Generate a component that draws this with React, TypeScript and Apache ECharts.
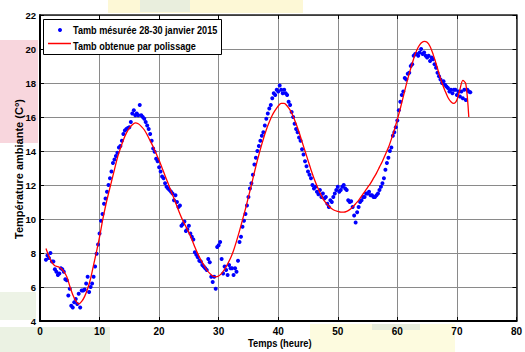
import React, { useEffect, useRef } from "react";
import * as echarts from "echarts";

// Measured ambient temperature, one value every 0.25 h starting at t = 1 h
const measuredStart = 1;
const measuredStep = 0.25;
const measuredDay1 = [
  7.6, 7.85, 7.7, 8.0, 7.5, 7.5, 7.05, 6.9, 6.7, 6.8, 7.1, 7.05, 6.9, 6.45, 6.4, 5.5,
  5.9, 4.9, 4.8, 5.1, 5.3, 5.0, 5.6, 4.8, 5.8, 5.8, 5.85, 6.2, 6.6, 5.7, 6.0, 6.2,
  6.6, 7.2, 7.95, 8.5, 9.15, 9.9, 10.3, 10.9, 11.2, 11.6, 12.0, 12.4, 12.8, 13.3, 13.5, 13.7,
  13.9, 14.2, 14.3, 14.6, 15.0, 15.2, 15.3, 15.35, 15.4, 15.7, 16.2, 16.4, 16.1, 16.2, 16.1, 16.7,
  16.1, 16.0, 15.9, 15.7, 15.5, 15.3, 15.0, 14.6, 14.15, 13.95, 13.55, 13.4, 13.05, 12.8, 12.5, 12.4,
  12.1, 11.9, 11.8, 11.7, 11.6, 11.5, 11.1, 11.4, 11.0, 10.7, 10.8, 9.6,
];
const measuredDay2 = [
  9.7, 9.85, 9.3, 9.4, 9.6, 9.15, 8.95, 8.8, 8.05, 7.9, 7.75, 7.55, 7.5, 7.3, 7.2, 7.1,
  7.0, 7.65, 7.45, 6.6, 6.3, 6.6, 5.9, 8.35, 8.45, 8.65, 7.65, 6.8, 7.2, 7.0, 6.7, 7.3,
  7.1, 7.1, 6.7, 7.1, 6.9, 7.55, 8.65, 8.95, 9.55, 9.9, 10.3, 10.8, 11.3, 11.8, 12.1, 12.6,
  13.2, 13.6, 14.0, 14.3, 14.6, 14.9, 15.1, 15.5, 15.9, 16.2, 16.5, 16.7, 17.1, 17.4, 17.3, 17.6,
  17.5, 17.85, 17.6, 17.4, 17.6, 17.4, 17.3, 16.9, 16.7, 16.3, 16.0, 15.6, 15.3, 15.1, 14.8, 14.6,
  14.1, 13.8, 13.4, 13.1, 12.8, 12.6, 12.4, 12.0, 11.8, 11.9, 11.6, 11.45, 11.7, 11.3, 11.5, 11.2,
];
const measuredDay3 = [
  11.3, 10.9, 10.7, 11.1, 11.0, 11.3, 11.5, 11.7, 11.9, 11.6, 11.7, 11.9, 12.0, 11.8, 11.7, 11.1,
  11.0, 11.05, 10.7, 10.2, 9.8, 10.4, 10.7, 11.0, 11.1, 11.3, 11.3, 11.5, 11.5, 11.6, 11.4, 11.4,
  11.3, 11.3, 11.4, 11.5, 11.7, 11.9, 12.1, 12.4, 12.9, 13.3, 13.6, 14.0, 14.2, 14.9, 15.1, 15.4,
  15.8, 16.4, 16.9, 17.3, 17.5, 18.3, 18.2, 18.55, 18.6, 19.0, 19.1, 19.6, 19.7, 19.7, 19.6, 19.8,
  20.0, 19.7, 19.8, 19.6, 19.5, 19.6, 19.3, 19.5, 19.4, 19.1, 18.9, 18.6, 18.4, 18.2, 18.0, 18.1,
  17.9, 17.8, 17.7, 17.5, 17.6, 17.4, 17.6, 17.6, 17.3, 17.5, 17.2, 17.5, 17.1, 17.6, 17.0, 17.6,
  17.5, 17.45,
];

// Smoothed ("polissage") curve, one value every 0.5 h starting at t = 1 h
const fitStart = 1;
const fitStep = 0.5;
const fitTemps = [
  8.26, 7.8, 7.45, 7.25, 7.2, 7.1, 6.9, 6.6, 6.05, 5.55, 5.2, 5.0, 5.15, 5.45, 5.9, 6.5,
  7.3, 8.1, 8.95, 9.9, 10.75, 11.5, 12.2, 12.9, 13.6, 14.15, 14.65, 15.05, 15.35, 15.55, 15.65, 15.6,
  15.45, 15.25, 14.95, 14.6, 14.25, 13.85, 13.45, 13.0, 12.55, 12.1, 11.65, 11.2, 10.75, 10.3, 9.9, 9.55,
  9.2, 8.8, 8.35, 7.95, 7.6, 7.3, 7.0, 6.8, 6.65, 6.6, 6.65, 6.8, 7.05, 7.35, 7.7, 8.15,
  8.7, 9.3, 9.95, 10.6, 11.3, 12.0, 12.75, 13.45, 14.1, 14.7, 15.25, 15.7, 16.1, 16.4, 16.65, 16.8,
  16.8, 16.65, 16.4, 16.05, 15.6, 15.1, 14.55, 14.0, 13.45, 12.9, 12.4, 11.95, 11.55, 11.2, 10.95, 10.75,
  10.6, 10.5, 10.45, 10.4, 10.4, 10.45, 10.55, 10.7, 10.9, 11.1, 11.35, 11.6, 11.85, 12.1, 12.4, 12.7,
  13.05, 13.4, 13.8, 14.2, 14.7, 15.25, 15.85, 16.5, 17.2, 17.9, 18.55, 19.15, 19.7, 20.1, 20.35, 20.45,
  20.4, 20.15, 19.7, 19.15, 18.55, 18.0, 17.55, 17.15, 16.9, 16.8, 17.0, 17.6, 18.15, 17.95, 16.0,
];

const xTicks = { min: 0, max: 80, interval: 10 };
const yTicks = { min: 4, max: 22, interval: 2 };

const legendLabels = ["Tamb mésurée 28-30 janvier 2015", "Tamb obtenue par polissage"];
const xTitle = "Temps (heure)";
const yTitle = "Température ambiante (C°)";

const FONT = "'Liberation Sans', Arial, sans-serif";

export default function App() {
  const ref = useRef<HTMLDivElement>(null);
  useEffect(() => {
    if (!ref.current) return;
    const chart = echarts.init(ref.current, undefined, { renderer: "svg" });
    const measured = [...measuredDay1, ...measuredDay2, ...measuredDay3].map((v, i) => [
      measuredStart + i * measuredStep,
      v,
    ]);
    const fit = fitTemps.map((v, i) => [fitStart + i * fitStep, v]);

    const grid = { left: 40, right: 4, top: 15, bottom: 31 };
    const splitLine = { show: true, lineStyle: { color: "#8a8a8a", width: 1 } };

    chart.setOption({
      animation: false,
      backgroundColor: "#fff",
      grid: { ...grid, show: true, backgroundColor: "#fff", borderWidth: 0 },
      xAxis: [
        {
          type: "value",
          ...xTicks,
          position: "bottom",
          axisLine: { show: true, onZero: false, lineStyle: { color: "#000", width: 2 } },
          axisTick: { show: true, inside: true, length: 4, lineStyle: { color: "#000", width: 1 } },
          axisLabel: { color: "#000", fontSize: 10, fontWeight: "bold", fontFamily: FONT, margin: 5 },
          splitLine,
        },
        {
          type: "value",
          ...xTicks,
          position: "top",
          axisLine: { show: true, onZero: false, lineStyle: { color: "#222", width: 1.5 } },
          axisTick: { show: true, inside: true, length: 4, lineStyle: { color: "#000", width: 1 } },
          axisLabel: { show: false },
          splitLine: { show: false },
        },
      ],
      yAxis: [
        {
          type: "value",
          ...yTicks,
          position: "left",
          axisLine: { show: true, onZero: false, lineStyle: { color: "#000", width: 2 } },
          axisTick: { show: true, inside: true, length: 4, lineStyle: { color: "#000", width: 1 } },
          axisLabel: { color: "#000", fontSize: 9.5, fontWeight: "bold", fontFamily: FONT, margin: 4 },
          splitLine,
        },
        {
          type: "value",
          ...yTicks,
          position: "right",
          axisLine: { show: true, onZero: false, lineStyle: { color: "#222", width: 1.5 } },
          axisTick: { show: true, inside: true, length: 4, lineStyle: { color: "#000", width: 1 } },
          axisLabel: { show: false },
          splitLine: { show: false },
        },
      ],
      series: [
        {
          name: legendLabels[0],
          type: "scatter",
          xAxisIndex: 0,
          yAxisIndex: 0,
          data: measured,
          symbol: "circle",
          symbolSize: 4,
          itemStyle: { color: "#0000ff", opacity: 1 },
          z: 3,
        },
        {
          name: legendLabels[1],
          type: "line",
          xAxisIndex: 0,
          yAxisIndex: 0,
          data: fit,
          smooth: 0.3,
          showSymbol: false,
          symbol: "none",
          lineStyle: { color: "#ff0000", width: 1.3 },
          z: 4,
        },
      ],
      graphic: {
        elements: [
          // background watermark patches
          { type: "rect", z: -10, shape: { x: 108, y: 0, width: 195, height: 13 }, style: { fill: "#fdf8d6" } },
          { type: "rect", z: -9, shape: { x: 140, y: 0, width: 50, height: 12 }, style: { fill: "#e9eedd" } },
          { type: "rect", z: -10, shape: { x: 0, y: 40, width: 38, height: 103 }, style: { fill: "#f8d6dd" } },
          { type: "rect", z: -10, shape: { x: 0, y: 292, width: 36, height: 28 }, style: { fill: "#edf3e6" } },
          { type: "rect", z: -10, shape: { x: 0, y: 327, width: 110, height: 25 }, style: { fill: "#ebf2e3" } },
          { type: "rect", z: -10, shape: { x: 310, y: 324, width: 145, height: 28 }, style: { fill: "#fdfbdf" } },
          { type: "rect", z: -9, shape: { x: 372, y: 324, width: 48, height: 6 }, style: { fill: "#e6ecdb" } },
          // axis titles
          {
            type: "text",
            z: 10,
            x: 19,
            y: 169,
            rotation: Math.PI / 2,
            style: {
              text: yTitle,
              fill: "#000",
              font: `bold 11px ${FONT}`,
              align: "center",
              verticalAlign: "middle",
            },
          },
          {
            type: "text",
            z: 10,
            x: 248,
            y: 343,
            scaleX: 0.85,
            style: {
              text: xTitle,
              fill: "#000",
              font: `bold 11px ${FONT}`,
              align: "left",
              verticalAlign: "middle",
            },
          },
          // legend
          {
            type: "rect",
            z: 10,
            shape: { x: 43.5, y: 19.5, width: 178, height: 35 },
            style: { fill: "#fff", stroke: "#000", lineWidth: 1 },
          },
          { type: "circle", z: 11, shape: { cx: 60, cy: 30, r: 2 }, style: { fill: "#0000ff" } },
          {
            type: "text",
            z: 11,
            x: 73,
            y: 30,
            scaleX: 0.83,
            style: { text: legendLabels[0], fill: "#000", font: `bold 11px ${FONT}`, verticalAlign: "middle" },
          },
          {
            type: "line",
            z: 11,
            shape: { x1: 48, y1: 43.5, x2: 71, y2: 43.5 },
            style: { stroke: "#ff0000", lineWidth: 1.5 },
          },
          {
            type: "text",
            z: 11,
            x: 73,
            y: 46,
            scaleX: 0.83,
            style: { text: legendLabels[1], fill: "#000", font: `bold 11px ${FONT}`, verticalAlign: "middle" },
          },
        ],
      },
    });
    return () => chart.dispose();
  }, []);
  return <div ref={ref} style={{ width: 525, height: 352, position: "absolute", left: 0, top: 0 }} />;
}
